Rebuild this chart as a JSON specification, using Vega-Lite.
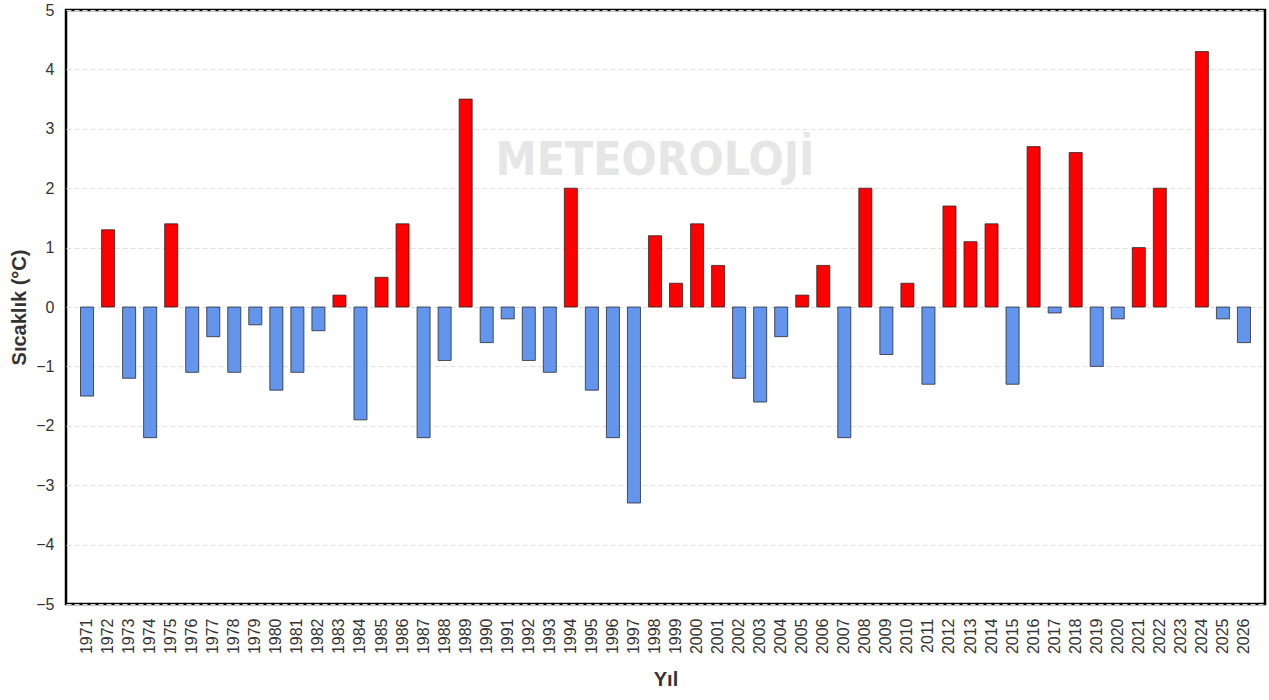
{
  "$schema": "https://vega.github.io/schema/vega-lite/v6.json",
  "width": 1199,
  "height": 594,
  "autosize": "none",
  "padding": {"left": 66, "top": 10, "right": 4, "bottom": 96},
  "background": "white",
  "config": {
    "font": "Liberation Sans",
    "view": {"stroke": "#000000", "strokeWidth": 2.5}
  },
  "datasets": {
    "anomaly": [
      {"year": "1971", "value": -1.5},
      {"year": "1972", "value": 1.3},
      {"year": "1973", "value": -1.2},
      {"year": "1974", "value": -2.2},
      {"year": "1975", "value": 1.4},
      {"year": "1976", "value": -1.1},
      {"year": "1977", "value": -0.5},
      {"year": "1978", "value": -1.1},
      {"year": "1979", "value": -0.3},
      {"year": "1980", "value": -1.4},
      {"year": "1981", "value": -1.1},
      {"year": "1982", "value": -0.4},
      {"year": "1983", "value": 0.2},
      {"year": "1984", "value": -1.9},
      {"year": "1985", "value": 0.5},
      {"year": "1986", "value": 1.4},
      {"year": "1987", "value": -2.2},
      {"year": "1988", "value": -0.9},
      {"year": "1989", "value": 3.5},
      {"year": "1990", "value": -0.6},
      {"year": "1991", "value": -0.2},
      {"year": "1992", "value": -0.9},
      {"year": "1993", "value": -1.1},
      {"year": "1994", "value": 2.0},
      {"year": "1995", "value": -1.4},
      {"year": "1996", "value": -2.2},
      {"year": "1997", "value": -3.3},
      {"year": "1998", "value": 1.2},
      {"year": "1999", "value": 0.4},
      {"year": "2000", "value": 1.4},
      {"year": "2001", "value": 0.7},
      {"year": "2002", "value": -1.2},
      {"year": "2003", "value": -1.6},
      {"year": "2004", "value": -0.5},
      {"year": "2005", "value": 0.2},
      {"year": "2006", "value": 0.7},
      {"year": "2007", "value": -2.2},
      {"year": "2008", "value": 2.0},
      {"year": "2009", "value": -0.8},
      {"year": "2010", "value": 0.4},
      {"year": "2011", "value": -1.3},
      {"year": "2012", "value": 1.7},
      {"year": "2013", "value": 1.1},
      {"year": "2014", "value": 1.4},
      {"year": "2015", "value": -1.3},
      {"year": "2016", "value": 2.7},
      {"year": "2017", "value": -0.1},
      {"year": "2018", "value": 2.6},
      {"year": "2019", "value": -1.0},
      {"year": "2020", "value": -0.2},
      {"year": "2021", "value": 1.0},
      {"year": "2022", "value": 2.0},
      {"year": "2023", "value": null},
      {"year": "2024", "value": 4.3},
      {"year": "2025", "value": -0.2},
      {"year": "2026", "value": -0.6}
    ],
    "watermark": [{"label": "METEOROLOJİ", "year": "1998", "value": 2.45}]
  },
  "layer": [
    {
      "data": {"name": "watermark"},
      "mark": {"type": "text", "font": "Liberation Sans Narrow, DejaVu Sans Condensed, sans-serif", "fontWeight": "bold", "fontSize": 46, "color": "#e6e6e6", "align": "center", "baseline": "middle"},
      "encoding": {
        "x": {
          "field": "year",
          "type": "ordinal",
          "sort": null,
          "scale": {
            "domain": ["1971","1972","1973","1974","1975","1976","1977","1978","1979","1980","1981","1982","1983","1984","1985","1986","1987","1988","1989","1990","1991","1992","1993","1994","1995","1996","1997","1998","1999","2000","2001","2002","2003","2004","2005","2006","2007","2008","2009","2010","2011","2012","2013","2014","2015","2016","2017","2018","2019","2020","2021","2022","2023","2024","2025","2026"],
            "paddingInner": 0.38,
            "paddingOuter": 0.69
          },
          "axis": {
            "title": "Yıl",
            "titleFontSize": 20,
            "titleFontWeight": "bold",
            "titleColor": "#333333",
            "titlePadding": 16,
            "labelAngle": -90,
            "labelFontSize": 16,
            "labelColor": "#333333",
            "labelPadding": 14,
            "ticks": false,
            "domain": false
          }
        },
        "y": {
          "field": "value",
          "type": "quantitative",
          "scale": {"domain": [-5, 5], "nice": false},
          "axis": {
            "title": "Sıcaklık (°C)",
            "titleFontSize": 20,
            "titleFontWeight": "bold",
            "titleColor": "#333333",
            "titlePadding": 6,
            "values": [-5, -4, -3, -2, -1, 0, 1, 2, 3, 4, 5],
            "format": "d",
            "labelFontSize": 16,
            "labelColor": "#333333",
            "labelPadding": 12,
            "ticks": false,
            "domain": false,
            "grid": true,
            "gridColor": "#e0e0e0",
            "gridDash": [5, 3],
            "gridWidth": 1
          }
        },
        "text": {"field": "label"}
      }
    },
    {
      "data": {"name": "anomaly"},
      "mark": {"type": "bar", "stroke": "#222222", "strokeWidth": 1, "strokeOpacity": 0.75},
      "encoding": {
        "x": {"field": "year", "type": "ordinal", "sort": null},
        "y": {"field": "value", "type": "quantitative"},
        "color": {
          "condition": {"test": "datum.value > 0", "value": "#ff0000"},
          "value": "#6495ed"
        }
      }
    },
    {
      "mark": {"type": "rule", "color": "#000000", "strokeWidth": 2.5},
      "encoding": {
        "y": {"datum": 0}
      }
    }
  ]
}
